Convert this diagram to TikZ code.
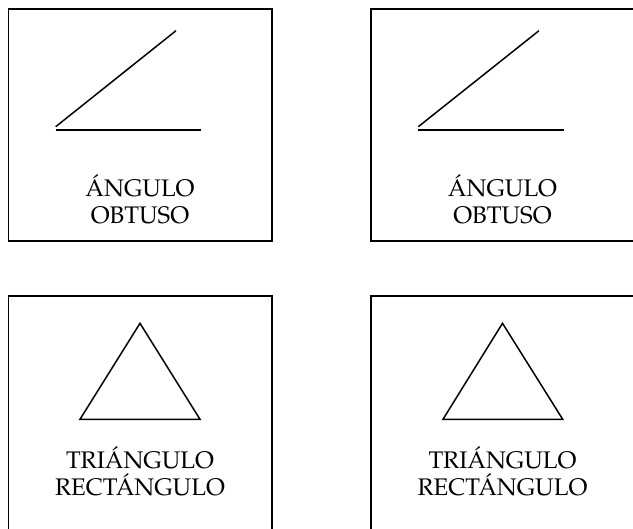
\documentclass[tikz,border=0pt]{standalone}
\usepackage[T1]{fontenc}
\usepackage{mathpazo}
\begin{document}
\begin{tikzpicture}[x=1pt,y=-1pt,
  frame/.style={draw=black,line width=1.6pt},
  fig/.style={draw=black,line width=1.5pt},
  lbl/.style={anchor=base,inner sep=0pt,font=\fontsize{24}{28}\selectfont}]
\useasboundingbox (0,0) rectangle (633,529);
\clip (0,0) rectangle (633,529);
% boxes
\draw[frame] (8.5,9) rectangle (272,241);
\draw[frame] (371,9) rectangle (640,241);
\draw[frame] (8.5,296) rectangle (272,540);
\draw[frame] (371,296) rectangle (640,540);
% angles
\coordinate (a1v) at (55.7,126.7);
\coordinate (a1e) at (176,30.7);
\coordinate (a1b) at (55.7,130);
\coordinate (a1f) at (200.7,130);
\draw[fig] (a1v) -- (a1e);
\draw[fig] (a1b) -- (a1f);
\coordinate (a2v) at (418.3,126.7);
\coordinate (a2e) at (539,30.7);
\coordinate (a2b) at (418.3,130);
\coordinate (a2f) at (564,130);
\draw[fig] (a2v) -- (a2e);
\draw[fig] (a2b) -- (a2f);
% triangles
\coordinate (t1a) at (140,323.3);
\coordinate (t1b) at (80,419.3);
\coordinate (t1c) at (200,419.3);
\draw[fig,line join=miter] (t1a) -- (t1b) -- (t1c) -- cycle;
\coordinate (t2a) at (502.5,323.3);
\coordinate (t2b) at (443,419.3);
\coordinate (t2c) at (562.7,419.3);
\draw[fig,line join=miter] (t2a) -- (t2b) -- (t2c) -- cycle;
% labels
\node[lbl] (l1a) at (140,196.7) {\'ANGULO};
\node[lbl] (l1b) at (140,224) {OBTUSO};
\node[lbl] (l2a) at (502.5,196.7) {\'ANGULO};
\node[lbl] (l2b) at (502.5,224) {OBTUSO};
\node[lbl] (l3a) at (140,468.3) {TRI\'ANGULO};
\node[lbl] (l3b) at (140,496) {RECT\'ANGULO};
\node[lbl] (l4a) at (502.5,468.3) {TRI\'ANGULO};
\node[lbl] (l4b) at (502.5,496) {RECT\'ANGULO};
\end{tikzpicture}
\end{document}
